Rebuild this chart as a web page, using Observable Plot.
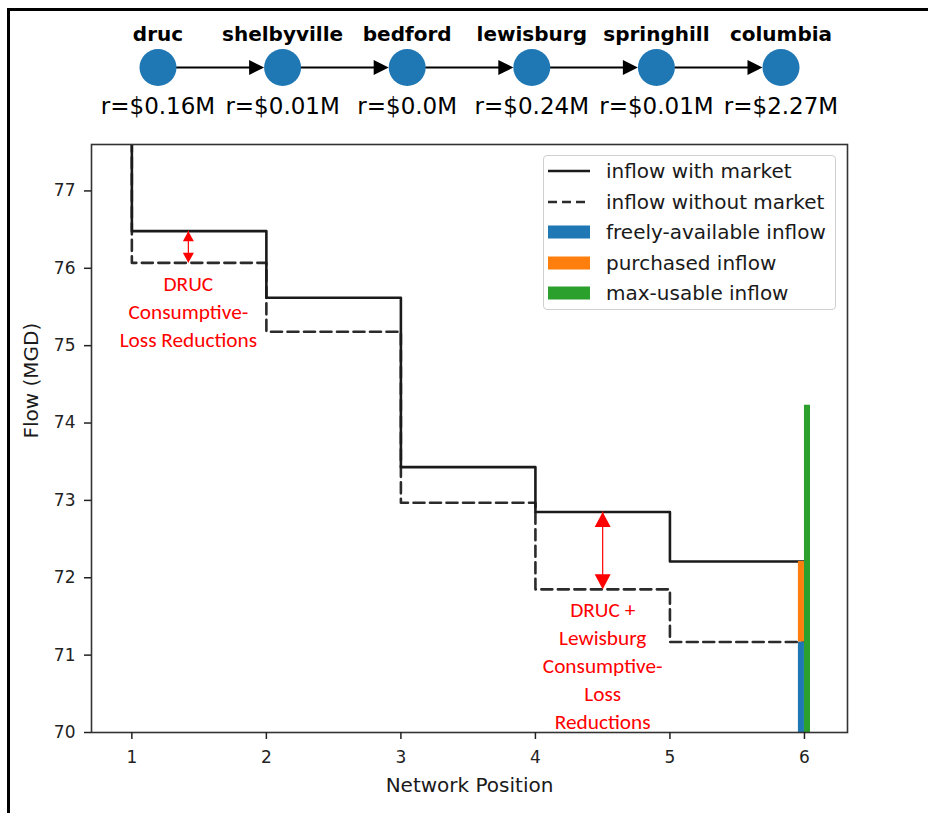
<!DOCTYPE html>
<html><head><meta charset="utf-8">
<script src="https://cdn.jsdelivr.net/npm/d3@7"></script>
<script src="https://cdn.jsdelivr.net/npm/@observablehq/plot@0.6"></script>
<style>
body{margin:0;background:#fff;}
#page{position:relative;width:928px;height:813px;overflow:hidden;font-family:"DejaVu Sans",sans-serif;}
#frame{position:absolute;left:7px;top:7.5px;right:-10px;bottom:-10px;border-top:3px solid #000;border-left:3px solid #000;}
#diagram{position:absolute;left:0;top:0;}
#chart{position:absolute;left:0;top:134px;}
#legend{position:absolute;left:543px;top:155px;width:291px;height:153px;border:1px solid #d0d0d0;border-radius:4px;background:rgba(255,255,255,0.85);}
.row{position:relative;height:30.5px;display:flex;align-items:center;}
.row svg{position:absolute;left:4px;top:8px;}
.row span{position:absolute;left:62px;top:2px;font-size:20px;line-height:26px;color:#1a1a1a;white-space:nowrap;}
</style></head><body>
<div id="page">
  <div id="frame"></div>
  <div id="diagram"></div>
  <div id="chart"></div>
  <div id="legend"></div>
</div>
<script>
// ---------- data ----------
const nodes = ["druc", "shelbyville", "bedford", "lewisburg", "springhill", "columbia"];
const revenues = ["r=$0.16M", "r=$0.01M", "r=$0.0M", "r=$0.24M", "r=$0.01M", "r=$2.27M"];
const positions = [1, 2, 3, 4, 5, 6];
const flowWithMarket = [78.5, 76.48, 75.62, 73.43, 72.85, 72.21];
const flowWithoutMarket = [78.5, 76.07, 75.18, 72.97, 71.85, 71.17];
const maxUsableInflow = 74.23;
const xTicks = [1, 2, 3, 4, 5, 6];
const yTicks = [70, 71, 72, 73, 74, 75, 76, 77];
const legendLabels = ["inflow with market", "inflow without market", "freely-available inflow", "purchased inflow", "max-usable inflow"];
const annotationX = [1.42, 4.5];
const annotationSegment = [1, 4];
const annotationText = ["DRUC\nConsumptive-\nLoss Reductions", "DRUC +\nLewisburg\nConsumptive-\nLoss\nReductions"];
const annotationTextY = [75.465, 70.89];

// ---------- styles ----------
const blue = "#1f77b4", orange = "#ff7f0e", green = "#2ca02c";
const solidColor = "#1a1a1a", dashColor = "#2b2b2b";
const nodeR = 18.5;

function head(dir, len, halfW) {
  return {draw(ctx) {
    if (dir === "right") { ctx.moveTo(0, 0); ctx.lineTo(-len, -halfW); ctx.lineTo(-len, halfW); }
    else if (dir === "up") { ctx.moveTo(0, 0); ctx.lineTo(-halfW, len); ctx.lineTo(halfW, len); }
    else { ctx.moveTo(0, 0); ctx.lineTo(-halfW, -len); ctx.lineTo(halfW, -len); }
    ctx.closePath();
  }};
}

// ---------- network diagram ----------
const nodeData = nodes.map((name, i) => ({i, name, rev: revenues[i]}));
const links = d3.pairs(nodeData).map(([a, b]) => ({from: a.i, to: b.i}));
const diagram = Plot.plot({
  width: 928, height: 134,
  marginLeft: 157.5, marginRight: 147.5, marginTop: 0, marginBottom: 0,
  x: {domain: [0, nodes.length - 1], axis: null},
  y: {domain: [-1, 1], axis: null},
  style: {fontFamily: "DejaVu Sans", background: "transparent", overflow: "visible"},
  marks: [
    Plot.arrow(links, {x1: "from", x2: "to", y1: () => 0, y2: () => 0, headLength: 0, insetStart: nodeR, insetEnd: nodeR + 10, stroke: "#000", strokeWidth: 2}),
    Plot.dot(links, {x: "to", y: () => 0, dx: -nodeR, symbol: head("right", 15, 7.5), fill: "#000", stroke: "none"}),
    Plot.dot(nodeData, {x: "i", y: () => 0, r: nodeR, fill: blue, stroke: "none"}),
    Plot.text(nodeData, {x: "i", y: () => 0, text: "name", dy: -33, lineAnchor: "middle", fontSize: 20, fontWeight: "bold", fill: "#000"}),
    Plot.text(nodeData, {x: "i", y: () => 0, text: "rev", dy: 39, lineAnchor: "middle", fontSize: 23, fill: "#000"})
  ]
});
document.getElementById("diagram").appendChild(diagram);

// ---------- main chart ----------
const withData = positions.map((x, i) => ({x, y: flowWithMarket[i]}));
const withoutData = positions.map((x, i) => ({x, y: flowWithoutMarket[i]}));
const last = positions.length - 1;
const barX = positions[last], barW = 0.045;
const bars = [
  {x1: barX - barW, x2: barX, y1: 70, y2: flowWithoutMarket[last], fill: blue},
  {x1: barX - barW, x2: barX, y1: flowWithoutMarket[last], y2: flowWithMarket[last], fill: orange},
  {x1: barX, x2: barX + barW, y1: 70, y2: maxUsableInflow, fill: green}
];
const arrows = annotationX.map((x, k) => ({
  x, lo: flowWithoutMarket[annotationSegment[k]], hi: flowWithMarket[annotationSegment[k]],
  len: k === 0 ? 10 : 15, halfW: k === 0 ? 5.5 : 8
}));
const texts = annotationX.map((x, k) => ({x, y: annotationTextY[k], text: annotationText[k]}));
const annFont = 21.3;

const chart = Plot.plot({
  width: 928, height: 679,
  marginTop: 10, marginLeft: 91, marginRight: 81, marginBottom: 81,
  x: {domain: [0.7, 6.32]},
  y: {domain: [70, 77.6]},
  style: {fontFamily: "DejaVu Sans", fontSize: "17px", color: "#222", background: "transparent", overflow: "visible"},
  marks: [
    Plot.line(withoutData, {x: "x", y: "y", curve: "step-before", stroke: dashColor, strokeWidth: 2.6, strokeDasharray: "11,5.5", clip: true}),
    Plot.line(withData, {x: "x", y: "y", curve: "step-before", stroke: solidColor, strokeWidth: 2.6, clip: true}),
    Plot.rect(bars, {x1: "x1", x2: "x2", y1: "y1", y2: "y2", fill: "fill"}),
    Plot.ruleX(arrows, {x: "x", y1: "lo", y2: "hi", stroke: "red", strokeWidth: 1.2}),
    ...arrows.map(a => Plot.dot([a], {x: "x", y: "hi", symbol: head("up", a.len, a.halfW), fill: "red", stroke: "none"})),
    ...arrows.map(a => Plot.dot([a], {x: "x", y: "lo", symbol: head("down", a.len, a.halfW), fill: "red", stroke: "none"})),
    Plot.text(texts, {x: "x", y: "y", text: "text", fill: "red", fontSize: annFont, fontFamily: "Carlito, Lato, sans-serif", lineHeight: 28 / annFont, lineAnchor: "middle"}),
    Plot.frame({stroke: "#333", strokeWidth: 1.6}),
    Plot.axisX({ticks: xTicks, tickFormat: d => String(d), tickSize: 7, tickPadding: 11, fontSize: 17, label: null, strokeWidth: 1.5}),
    Plot.axisY({ticks: yTicks, tickFormat: d => String(d), tickSize: 7, tickPadding: 9, fontSize: 17, label: null, strokeWidth: 1.5}),
    Plot.text(["Network Position"], {frameAnchor: "bottom", dy: 59, lineAnchor: "bottom", text: d => d, fontSize: 20, fill: "#1a1a1a"}),
    Plot.text(["Flow (MGD)"], {frameAnchor: "left", dx: -54, rotate: -90, lineAnchor: "bottom", text: d => d, fontSize: 20, fill: "#1a1a1a"})
  ]
});
document.getElementById("chart").appendChild(chart);

// ---------- legend ----------
const legend = document.getElementById("legend");
const handles = [
  `<line x1="0" x2="42" y1="7" y2="7" stroke="${solidColor}" stroke-width="2.5"/>`,
  `<line x1="0" x2="42" y1="7" y2="7" stroke="${dashColor}" stroke-width="2.5" stroke-dasharray="9,5"/>`,
  `<rect x="0" y="0.5" width="42" height="13" fill="${blue}"/>`,
  `<rect x="0" y="0.5" width="42" height="13" fill="${orange}"/>`,
  `<rect x="0" y="0.5" width="42" height="13" fill="${green}"/>`
];
legendLabels.forEach((label, i) => {
  const row = document.createElement("div");
  row.className = "row";
  row.innerHTML = `<svg width="42" height="14">${handles[i]}</svg><span>${label}</span>`;
  legend.appendChild(row);
});
</script></body></html>
